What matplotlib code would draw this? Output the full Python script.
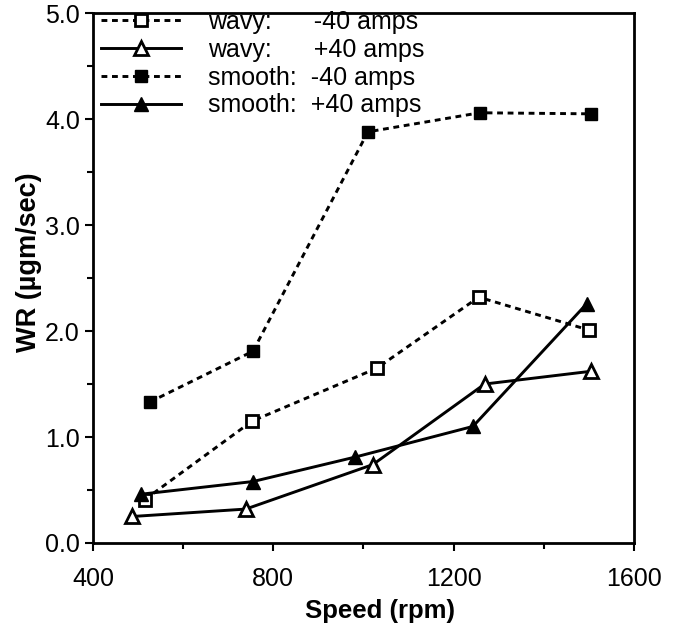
import matplotlib.pyplot as plt
from matplotlib.ticker import MultipleLocator, FormatStrFormatter

plt.rcParams['font.family'] = ['Liberation Sans', 'DejaVu Sans']

# speed (rpm) and wear rate (ugm/sec)
wavy_neg_x = [515, 753, 1030, 1256, 1500]
wavy_neg_y = [0.41, 1.15, 1.65, 2.32, 2.01]
wavy_pos_x = [487, 739, 1021, 1269, 1504]
wavy_pos_y = [0.25, 0.32, 0.74, 1.50, 1.62]
smooth_neg_x = [526, 755, 1010, 1258, 1504]
smooth_neg_y = [1.33, 1.81, 3.88, 4.06, 4.05]
smooth_pos_x = [506, 755, 981, 1243, 1496]
smooth_pos_y = [0.46, 0.58, 0.81, 1.10, 2.26]

labels = ["wavy:      -40 amps", "wavy:      +40 amps",
          "smooth:  -40 amps", "smooth:  +40 amps"]

fig = plt.figure(figsize=(6.76, 6.27), dpi=100)
ax = fig.add_axes([0.1376, 0.134, 0.800, 0.845])

lw = 2.1
dash = (0, (2.0, 1.6))
ms_sq = 8.5
ms_tri = 10

ax.plot(wavy_neg_x, wavy_neg_y, color="black", ls=dash, lw=lw, marker="s",
        ms=ms_sq, mfc="white", mec="black", mew=2, label=labels[0])
ax.plot(wavy_pos_x, wavy_pos_y, color="black", ls="-", lw=lw, marker="^",
        ms=ms_tri, mfc="white", mec="black", mew=2, label=labels[1])
ax.plot(smooth_neg_x, smooth_neg_y, color="black", ls=dash, lw=lw, marker="s",
        ms=ms_sq, mfc="black", mec="black", label=labels[2])
ax.plot(smooth_pos_x, smooth_pos_y, color="black", ls="-", lw=lw, marker="^",
        ms=ms_tri, mfc="black", mec="black", label=labels[3])

ax.set_xlim(400, 1600)
ax.set_ylim(0, 5)
ax.xaxis.set_major_locator(MultipleLocator(400))
ax.xaxis.set_minor_locator(MultipleLocator(200))
ax.yaxis.set_major_locator(MultipleLocator(1))
ax.yaxis.set_minor_locator(MultipleLocator(0.5))
ax.yaxis.set_major_formatter(FormatStrFormatter("%.1f"))

ax.tick_params(which="both", direction="out", width=1.5, labelsize=18)
ax.tick_params(which="major", length=6)
ax.tick_params(which="minor", length=4)
ax.tick_params(axis="x", which="major", pad=11)
for s in ax.spines.values():
    s.set_linewidth(2)

ax.set_xlabel("Speed (rpm)", fontsize=18.5, fontweight="bold")
ax.set_ylabel("WR (\u00b5gm/sec)", fontsize=19.5, fontweight="bold")
ax.xaxis.set_label_coords(0.53, -0.105)
ax.yaxis.set_label_coords(-0.094, 0.53)

ax.legend(loc="upper left", bbox_to_anchor=(0, 1.02), frameon=False,
          fontsize=18, handlelength=3.2, handletextpad=1.1, labelspacing=0.15,
          borderaxespad=0.1, borderpad=0.2)

fig.savefig("out.png", dpi=100)
